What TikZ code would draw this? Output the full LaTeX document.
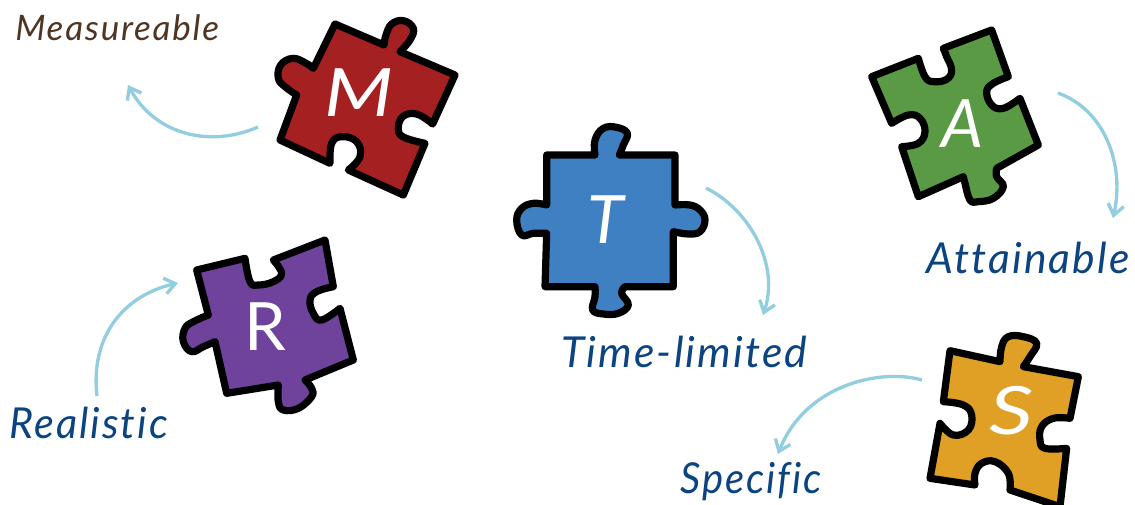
\documentclass[tikz,border=0pt]{standalone}
\usepackage{fontspec}
\setmainfont{Lato}
\newfontfamily\goalfont[LetterSpace=5,Ligatures=NoCommon,ItalicFont={Lato Italic}]{Lato}
\usetikzlibrary{arrows.meta}
\definecolor{pieceRed}{HTML}{A52020}
\definecolor{pieceBlue}{HTML}{3F80C3}
\definecolor{pieceGreen}{HTML}{5A9A45}
\definecolor{piecePurple}{HTML}{6F429B}
\definecolor{pieceOrange}{HTML}{E0A025}
\definecolor{labelNavy}{HTML}{0B4480}
\definecolor{labelBrown}{HTML}{4F3522}
\definecolor{curveBlue}{HTML}{93CDE0}
\tikzset{%
	piece/.style={
		draw=black,
		line width=5.4pt,
		line join=round
	},
	letter/.style={
		text=white,
		font=\itshape\fontsize{50}{50}\selectfont,
		inner sep=0pt
	},
	goal/.style={
		text=labelNavy,
		font=\goalfont\itshape\fontsize{32}{32}\selectfont,
		inner sep=0pt
	},
	curve/.style={
		draw=curveBlue,
		line width=2.5pt,
		-{Straight Barb[length=8pt,width=12pt,line width=2.5pt]}
	},
}

\begin{document}
\begin{tikzpicture}[x=0.75pt,y=-0.75pt]
	\useasboundingbox (0,0) rectangle (1135,504);
	
	% M piece
	\begin{scope}[shift={(260,0)},scale=1/3]
		\draw[piece,fill=pieceRed] (225,72) -- (372,135)
			-- plot[smooth,tension=.7] coordinates {(372,135) (378,105) (395,72) (430,62) (460,85) (450,120) (420,155)}
			-- (585,225) -- (518,372)
			-- plot[smooth,tension=.7] coordinates {(518,372) (470,342) (428,350) (415,388) (432,412) (495,430)}
			-- (430,585) -- (265,510)
			-- plot[smooth,tension=.7] coordinates {(265,510) (300,470) (290,425) (245,410) (215,430) (210,490)}
			-- (60,420) -- (110,285)
			-- plot[smooth,tension=.7] coordinates {(110,285) (75,260) (55,235) (62,195) (98,175) (135,188) (160,205)}
			-- cycle;
	\end{scope}
	\node[letter,xscale=1.2,transform shape] (letterM) at (359,93) {M};
	
	% T piece
	\begin{scope}[shift={(500,110)},scale=1/3]
		\draw[piece,fill=pieceBlue] (140,135) -- (285,135)
			-- plot[smooth,tension=.7] coordinates {(285,135) (285,90) (310,55) (350,52) (382,70) (370,105) (358,135)}
			-- (525,135) -- (525,285)
			-- plot[smooth,tension=.7] coordinates {(525,285) (570,285) (600,300) (615,330) (600,365) (565,372) (520,365)}
			-- (520,530) -- (375,530)
			-- plot[smooth,tension=.7] coordinates {(375,530) (365,550) (385,585) (355,610) (310,612) (278,600) (285,560) (285,530)}
			-- (135,530) -- (140,370)
			-- plot[smooth,tension=.7] coordinates {(140,370) (100,370) (65,375) (50,330) (65,295) (100,280) (140,285)}
			-- cycle;
	\end{scope}
	\node[letter] (letterT) at (606,220) {T};
	
	% A piece
	\begin{scope}[shift={(850,20)},scale=1/3]
		\draw[piece,fill=pieceGreen] (65,170) -- (205,115)
			-- plot[smooth,tension=.7] coordinates {(205,115) (225,170) (250,185) (290,178) (305,150) (290,110) (280,85)}
			-- (425,30) -- (475,170)
			-- plot[smooth,tension=.7] coordinates {(475,170) (430,190) (410,215) (425,255) (460,265) (510,235)}
			-- (565,375) -- (440,445)
			-- plot[smooth,tension=.7] coordinates {(440,445) (440,470) (460,500) (430,535) (385,545) (360,540) (345,490) (340,470)}
			-- (205,530) -- (155,380)
			-- plot[smooth,tension=.7] coordinates {(155,380) (205,370) (225,335) (210,295) (175,285) (125,310)}
			-- cycle;
	\end{scope}
	\node[letter] (letterA) at (963,124) {A};
	
	% R piece
	\begin{scope}[shift={(170,225)},scale=1/3]
		\draw[piece,fill=piecePurple] (80,135) -- (225,100)
			-- plot[smooth,tension=.7] coordinates {(225,100) (240,170) (265,180) (310,170) (335,145) (310,105)}
			-- (465,45) -- (490,185)
			-- plot[smooth,tension=.7] coordinates {(490,185) (440,200) (420,225) (430,265) (455,285) (510,250)}
			-- (550,405) -- (405,465)
			-- plot[smooth,tension=.7] coordinates {(405,465) (425,490) (425,515) (385,550) (340,555) (325,530) (325,480)}
			-- (170,505) -- (135,350)
			-- plot[smooth,tension=.7] coordinates {(135,350) (100,365) (65,380) (40,350) (45,310) (70,290) (115,270)}
			-- cycle;
	\end{scope}
	\node[letter,font=\upshape\fontsize{50}{50}\selectfont] (letterR) at (265,327) {R};
	
	% S piece
	\begin{scope}[shift={(920,330)},scale=1/3]
		\draw[piece,fill=pieceOrange] (90,62) -- (240,95)
			-- plot[smooth,tension=.7] coordinates {(240,95) (245,50) (265,20) (310,20) (350,40) (330,80) (310,110)}
			-- (475,140) -- (450,265)
			-- plot[smooth,tension=.7] coordinates {(450,265) (400,265) (365,290) (360,330) (375,355) (440,355)}
			-- (420,530) -- (270,480)
			-- plot[smooth,tension=.7] coordinates {(270,480) (265,430) (225,395) (185,400) (165,430) (165,465)}
			-- (30,445) -- (60,280)
			-- plot[smooth,tension=.7] coordinates {(60,280) (100,315) (145,300) (155,255) (130,225) (70,215)}
			-- cycle;
	\end{scope}
	\node[letter,xscale=1.3,transform shape] (letterS) at (1012,411) {S};
	
	% labels
	\node[goal,text=labelBrown,anchor=west,font=\goalfont\itshape\fontsize{26.3}{26.3}\selectfont] (measureable) at (15,28) {Measureable};
	\node[goal,anchor=west] (attainable) at (926,258) {Attainable};
	\node[goal,anchor=west] (timelimited) at (561,352) {Time-limited};
	\node[goal,anchor=west,xscale=.97,transform shape] (realistic) at (9,423) {Realistic};
	\node[goal,anchor=west,xscale=.935,transform shape] (specific) at (680,482) {Specific};
	
	% curved arrows
	\coordinate (fromM) at (258,127);
	\coordinate (toM) at (128,85);
	\coordinate (fromA) at (1058,93);
	\coordinate (toA) at (1113,218);
	\coordinate (fromT) at (706,188);
	\coordinate (toT) at (763,315);
	\coordinate (fromR) at (97,396);
	\coordinate (toR) at (178,283);
	\coordinate (fromS) at (922,380);
	\coordinate (toS) at (778,454);
	\draw[curve] (fromM) .. controls (210,148) and (155,135) .. (toM);
	\draw[curve] (fromA) .. controls (1105,110) and (1125,165) .. (toA);
	\draw[curve] (fromT) .. controls (750,210) and (780,265) .. (toT);
	\draw[curve] (fromR) .. controls (90,335) and (125,295) .. (toR);
	\draw[curve] (fromS) .. controls (880,368) and (805,385) .. (toS);
\end{tikzpicture}
\end{document}
